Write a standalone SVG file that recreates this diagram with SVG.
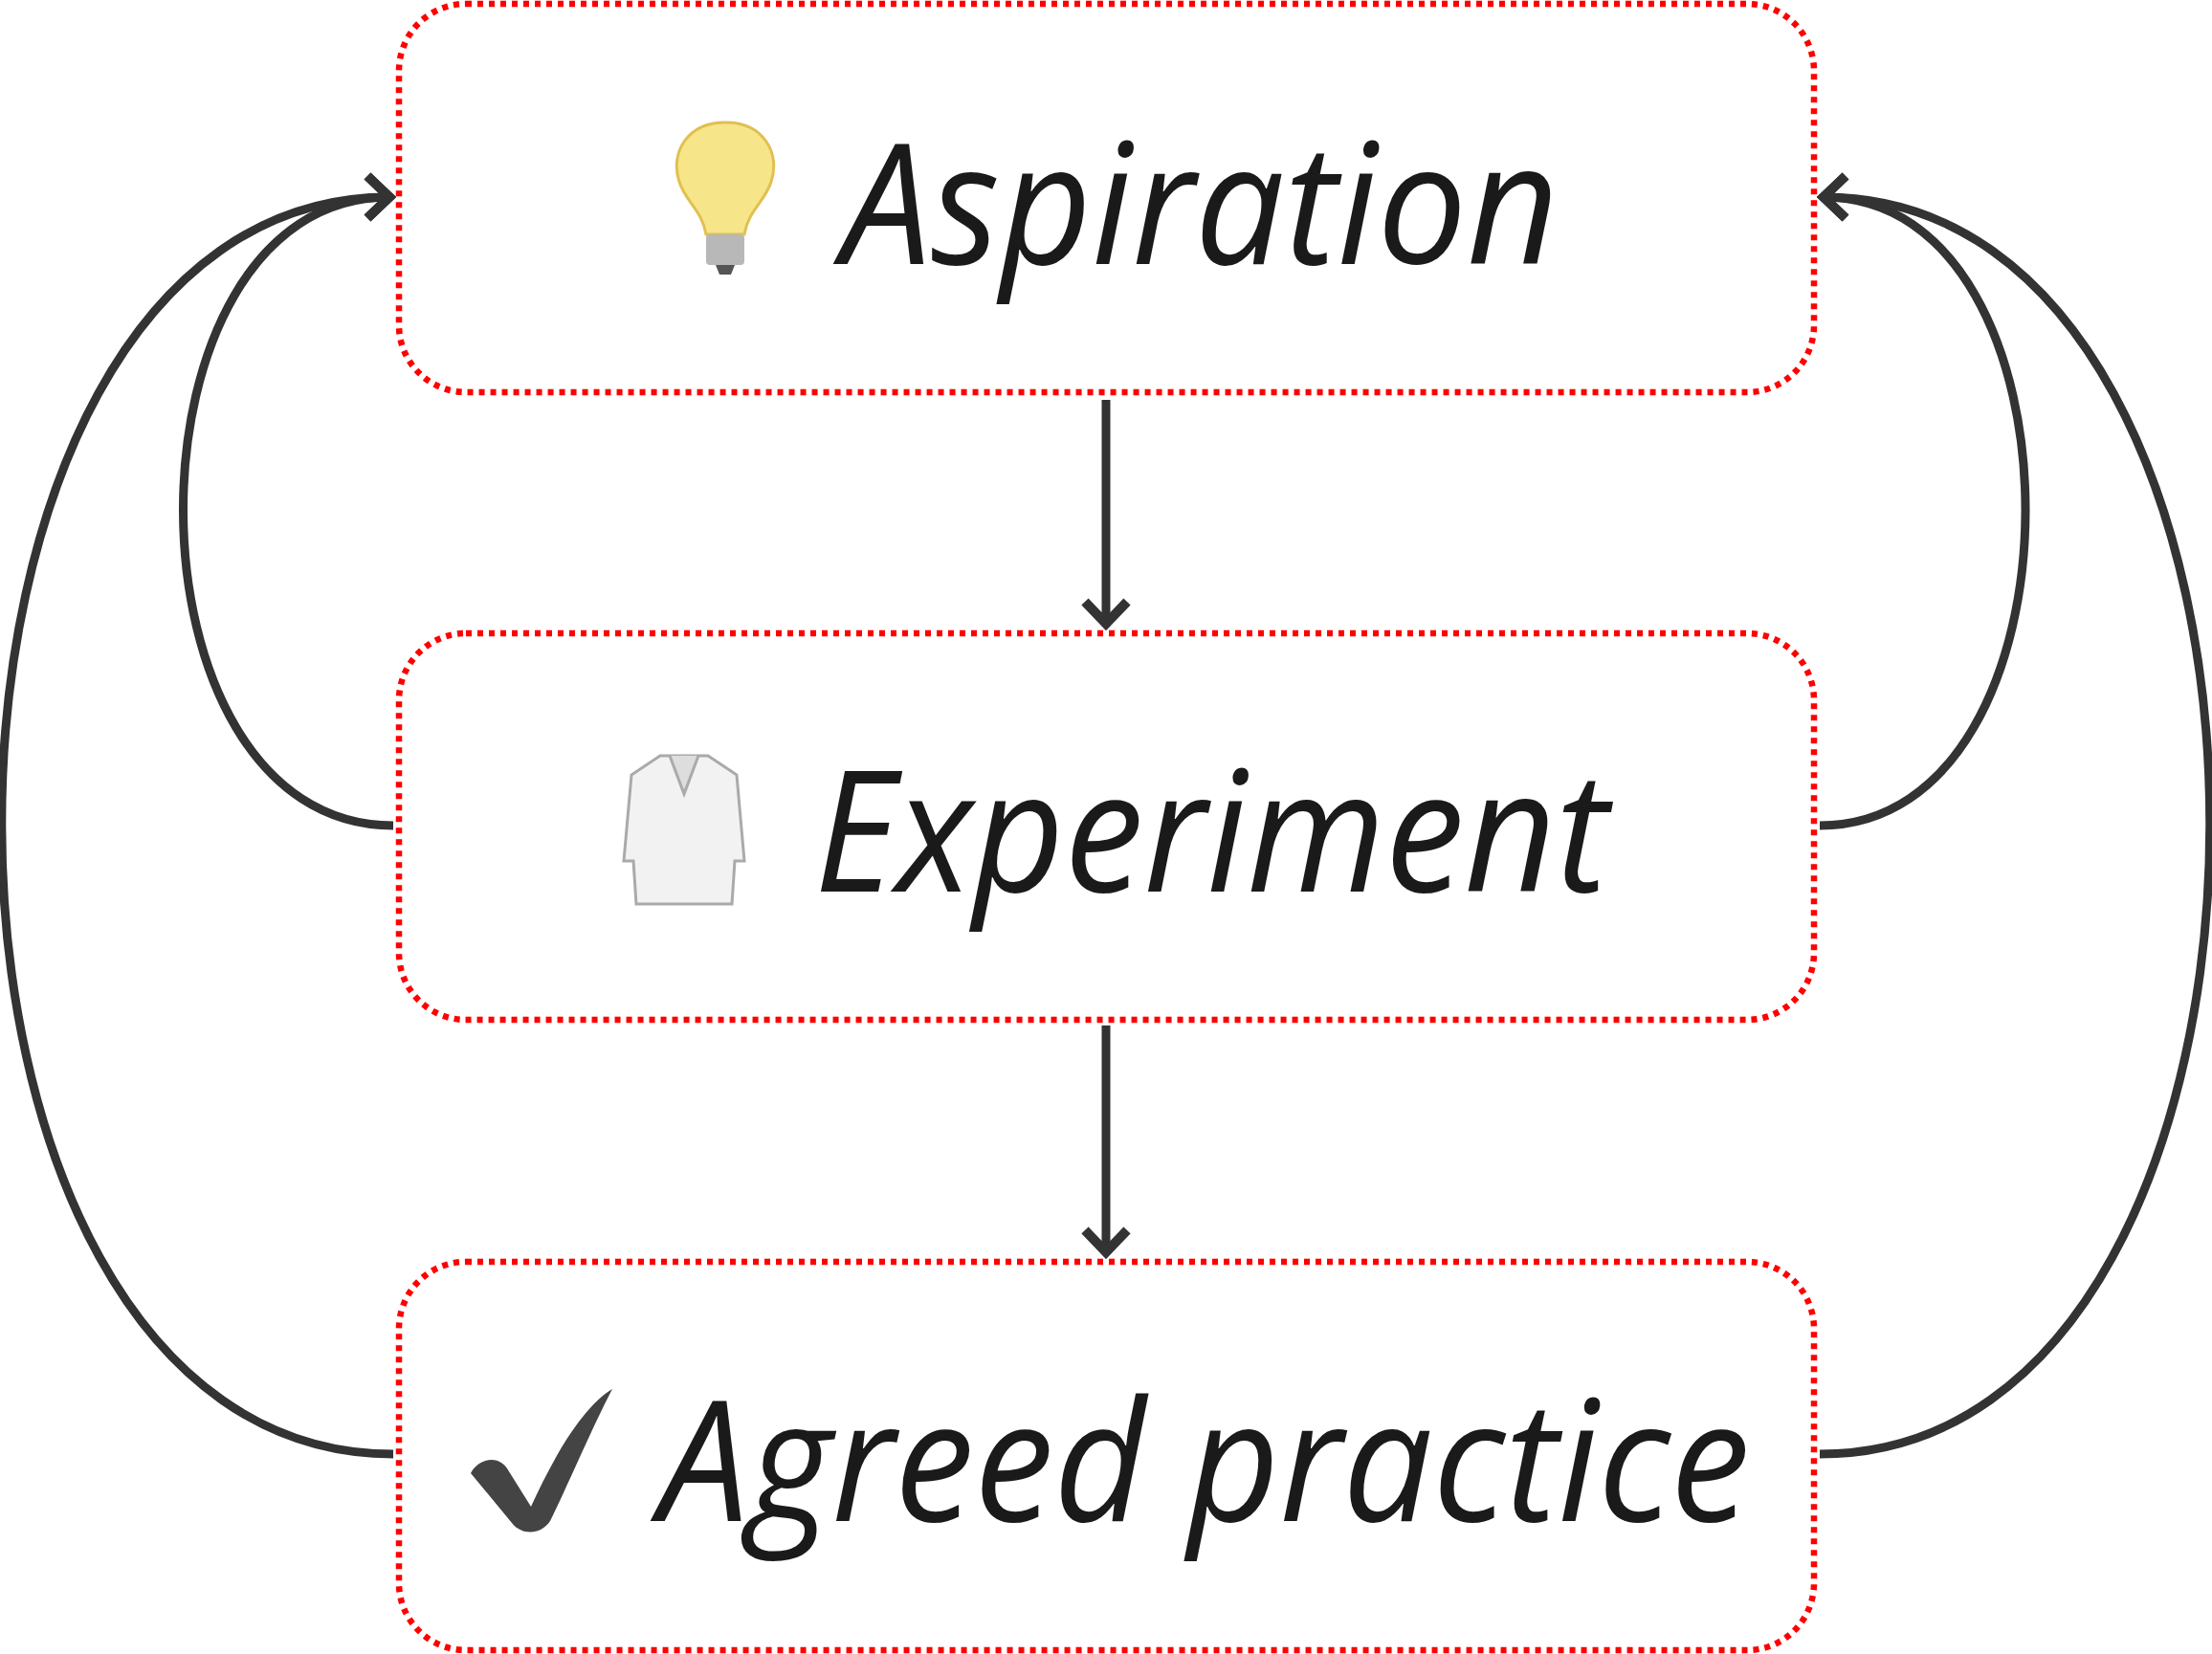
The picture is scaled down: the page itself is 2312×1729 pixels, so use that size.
<svg xmlns="http://www.w3.org/2000/svg" width="2312" height="1729" viewBox="0 0 2312 1729">
<style>
.box{fill:#fff;stroke:#f00;stroke-width:6.5;stroke-dasharray:6 6}
.lbl{font-family:"Open Sans",sans-serif;font-style:italic;font-size:176px;fill:#1a1a1a}
.c{fill:none;stroke:#333;stroke-width:9}
</style>
<defs>
<marker id="ah" markerWidth="12" markerHeight="12" refX="9" refY="6" orient="auto" markerUnits="userSpaceOnUse" viewBox="0 0 12 12" overflow="visible">
<path d="M-14,-16 L9,6 L-14,28" fill="none" stroke="#333" stroke-width="10" stroke-linejoin="miter"/>
</marker>
</defs>
<rect width="2312" height="1729" fill="#fff"/>
<g id="connectors">
<path class="c" d="M1156,418 V652" marker-end="url(#ah)"/>
<path class="c" d="M1156,1072 V1309" marker-end="url(#ah)"/>
<path class="c" d="M411,863 C119,863 119,206 407,206" marker-end="url(#ah)"/>
<path class="c" d="M411,1520 C-134,1520 -134,206 407,206" marker-end="url(#ah)"/>
<path class="c" d="M1902,863 C2188,863 2188,206 1906,206" marker-end="url(#ah)"/>
<path class="c" d="M1902,1520 C2445,1520 2445,206 1906,206" marker-end="url(#ah)"/>
</g>
<g id="aspiration">
<rect class="box" x="417" y="4" width="1479" height="406" rx="70"/>
<g>
<path d="M758,128 C718,128 700,160 710,190 C716,210 734,220 738,245 L778,245 C782,220 800,210 806,190 C816,160 798,128 758,128 Z" fill="#f7e58a" stroke="#e0c050" stroke-width="3"/>
<rect x="738" y="245" width="40" height="32" fill="#b8b8b8" rx="4"/>
<path d="M748,277 h20 l-4,10 h-12 z" fill="#555"/>
</g>
<text class="lbl" x="880" y="276" textLength="749" lengthAdjust="spacingAndGlyphs">Aspiration</text>
</g>
<g id="experiment">
<rect class="box" x="417" y="662" width="1479" height="404" rx="70"/>
<g fill="#f2f2f2" stroke="#aaa" stroke-width="3">
<path d="M690,790 L740,790 L770,810 L778,900 L768,900 L765,945 L665,945 L662,900 L652,900 L660,810 Z"/>
<path d="M700,790 L715,830 L730,790" fill="#ddd"/>
</g>
<text class="lbl" x="851" y="932" textLength="830" lengthAdjust="spacingAndGlyphs">Experiment</text>
</g>
<g id="agreed-practice">
<rect class="box" x="417" y="1319" width="1479" height="406" rx="70"/>
<path d="M492,1540 C500,1525 520,1520 530,1535 L555,1575 C580,1520 610,1470 640,1452 C620,1490 590,1560 575,1590 C565,1605 545,1605 535,1592 Z" fill="#444"/>
<text class="lbl" x="689" y="1590" textLength="1140" lengthAdjust="spacingAndGlyphs">Agreed practice</text>
</g>
</svg>
